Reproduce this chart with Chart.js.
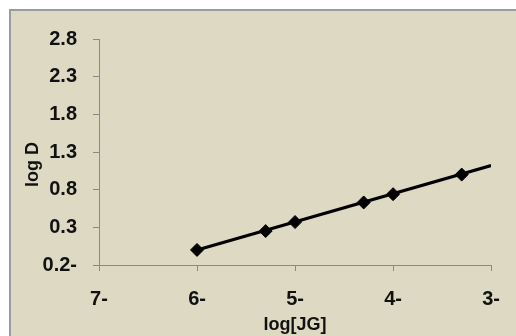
<!DOCTYPE html>
<html>
<head>
<meta charset="utf-8">
<script src="https://cdn.jsdelivr.net/npm/chart.js@4"></script>
<style>
  body { margin: 0; background: #fff; }
  #wrap {
    position: absolute; left: 9px; top: 9px;
    width: 505px; height: 325px;
    border-left: 2px solid #9c9c9c; border-top: 2px solid #9c9c9c;
    background: #ddd9c3;
  }
</style>
</head>
<body>
<div id="wrap"><canvas id="chart" width="505" height="325"></canvas></div>
<script>
// values
const logJG = [-6, -5.3, -5, -4.3, -4, -3.3];
const logD = [0.0, 0.25, 0.37, 0.63, 0.74, 1.0];
const trendX = [-6, -3];
const trendY = [0.0, 1.12];
const xTicks = [-7, -6, -5, -4, -3];
const yTicks = [-0.2, 0.3, 0.8, 1.3, 1.8, 2.3, 2.8];

// negative numbers are written with the sign after the digits: "0.2-", "7-"
function signAfter(v, digits) {
  const s = Math.abs(v).toFixed(digits);
  return v < 0 ? s + '-' : s;
}

Chart.defaults.font.family = '"Liberation Sans", Arial, sans-serif';
Chart.defaults.color = '#111';

const axisGrey = '#8a8a8a';
const tickFont = { size: 20, weight: 'bold' };
const titleFont = { size: 18, weight: 'bold' };

new Chart(document.getElementById('chart').getContext('2d'), {
  type: 'scatter',
  data: {
    datasets: [
      {
        data: trendX.map((x, i) => ({ x: x, y: trendY[i] })),
        showLine: true,
        borderColor: '#000',
        borderWidth: 3,
        pointRadius: 0
      },
      {
        data: logJG.map((x, i) => ({ x: x, y: logD[i] })),
        showLine: false,
        pointStyle: 'rectRot',
        pointRadius: 6.5,
        pointBackgroundColor: '#000',
        pointBorderColor: '#000',
        pointBorderWidth: 1
      }
    ]
  },
  options: {
    responsive: false,
    animation: false,
    layout: { padding: { top: 22, right: 22, left: 0, bottom: 0 } },
    plugins: { legend: { display: false }, tooltip: { enabled: false } },
    scales: {
      x: {
        type: 'linear',
        min: -7, max: -3,
        afterBuildTicks: s => { s.ticks = xTicks.map(v => ({ value: v })); },
        afterFit: s => { s.height = 71; },
        grid: { drawOnChartArea: false, drawTicks: true, tickLength: 6, color: axisGrey },
        border: { display: true, color: axisGrey, width: 1 },
        ticks: { font: tickFont, color: '#111', padding: 16, callback: v => signAfter(v, 0) },
        title: { display: true, text: 'log[JG]', font: titleFont, color: '#111', padding: { top: 2, bottom: 0 } }
      },
      y: {
        type: 'linear',
        min: -0.2, max: 2.8,
        afterBuildTicks: s => { s.ticks = yTicks.map(v => ({ value: v })); },
        afterFit: s => { s.width = 88; },
        grid: { drawOnChartArea: false, drawTicks: true, tickLength: 6, color: axisGrey },
        border: { display: true, color: axisGrey, width: 1 },
        ticks: { font: tickFont, color: '#111', padding: 16, callback: v => signAfter(v, 1) },
        title: { display: true, text: 'log D     ', font: titleFont, color: '#111', padding: { top: 11, bottom: 0 } }
      }
    }
  }
});
</script>
</body>
</html>
